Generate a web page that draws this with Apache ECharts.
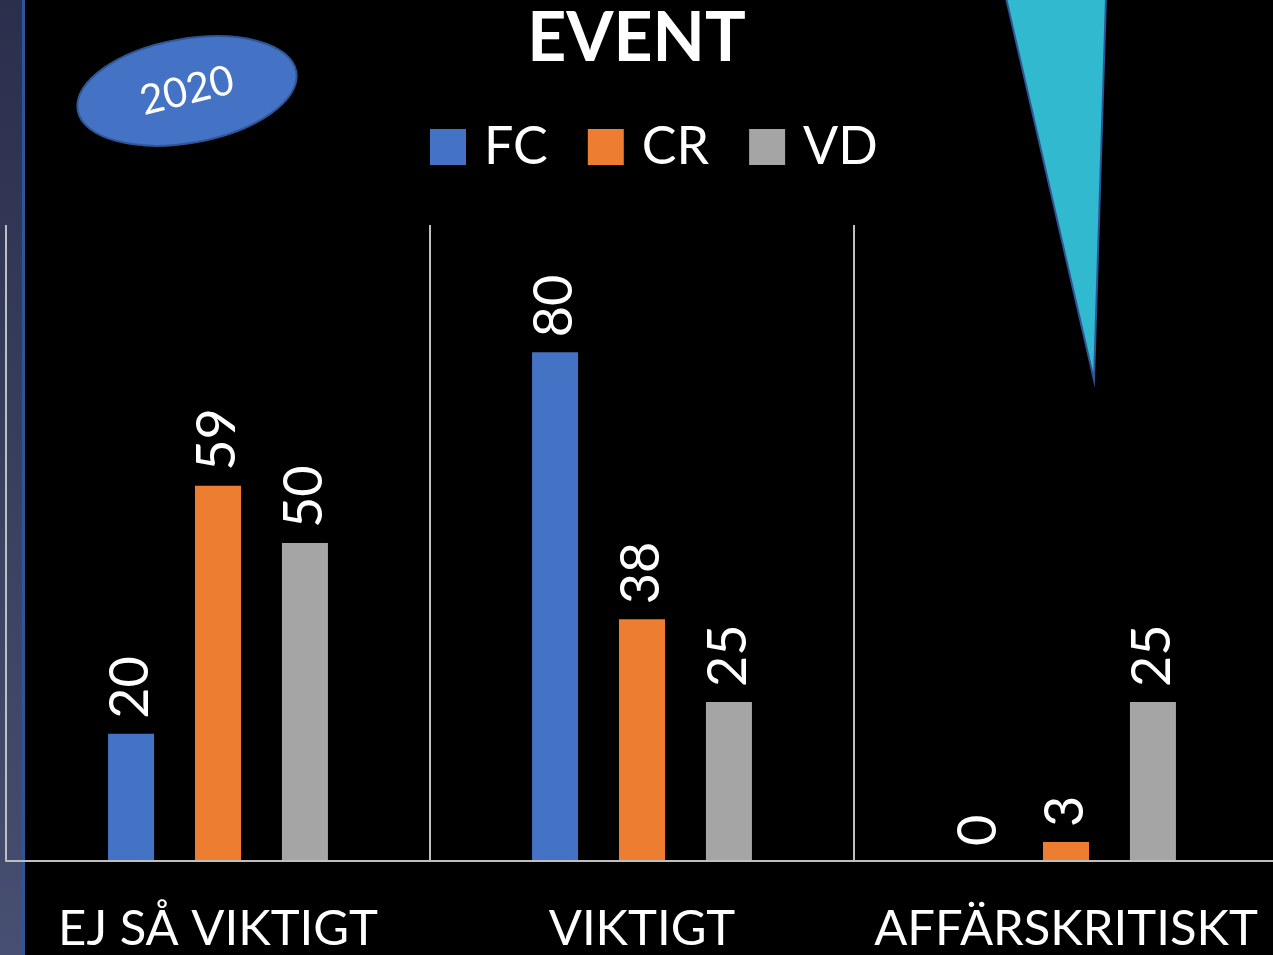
<!DOCTYPE html>
<html>
<head>
<meta charset="utf-8">
<script src="https://cdn.jsdelivr.net/npm/echarts@6/dist/echarts.min.js"></script>
<style>
  html, body { margin: 0; padding: 0; background: #000; }
  #chart { width: 1273px; height: 955px; }
</style>
</head>
<body>
<div id="chart"></div>
<script>
const categories = ['EJ SÅ VIKTIGT', 'VIKTIGT', 'AFFÄRSKRITISKT'];
const fcValues = [20, 80, 0];
const crValues = [59, 38, 3];
const vdValues = [50, 25, 25];
const seriesNames = ['FC', 'CR', 'VD'];
const seriesColors = ['#4472c4', '#ed7d31', '#a5a5a5'];

const chart = echarts.init(document.getElementById('chart'));
const font = 'Lato, "Open Sans", sans-serif';

const valueLabel = {
  show: true,
  position: 'top',
  rotate: 90,
  align: 'left',
  verticalAlign: 'middle',
  distance: 15,
  color: '#fff',
  fontSize: 54,
  fontFamily: font
};

function makeSeries(name, data, color) {
  return {
    name: name,
    type: 'bar',
    data: data,
    barWidth: 46,
    barGap: '89%',
    itemStyle: { color: color },
    label: valueLabel
  };
}

const option = {
  backgroundColor: '#000',
  animation: false,
  title: {
    text: 'EVENT',
    left: 'center',
    top: 0,
    textStyle: { color: '#fff', fontSize: 68, fontWeight: 'bold', fontFamily: font }
  },
  legend: {
    left: 425,
    top: 116,
    icon: 'rect',
    itemWidth: 36,
    itemHeight: 36,
    itemGap: 40,
    data: seriesNames,
    textStyle: { color: '#fff', fontSize: 52, fontFamily: font, padding: [0, 0, 0, 13] }
  },
  grid: {
    left: 6,
    width: 1272,
    top: 225,
    bottom: 94,
    outerBoundsMode: 'none',
    containLabel: false
  },
  xAxis: {
    type: 'category',
    data: categories,
    z: 5,
    axisLine: { show: true, lineStyle: { color: '#bfbfbf', width: 2 } },
    axisTick: { show: false },
    splitLine: { show: true, lineStyle: { color: '#bfbfbf', width: 2 } },
    axisLabel: { color: '#fff', fontSize: 49, fontFamily: font, margin: 44, interval: 0 }
  },
  yAxis: {
    type: 'value',
    min: 0,
    max: 100,
    show: false
  },
  graphic: {
    elements: [
      {
        type: 'rect',
        left: 0,
        top: 0,
        shape: { width: 22, height: 955 },
        style: {
          fill: new echarts.graphic.LinearGradient(0, 0, 0, 1, [
            { offset: 0, color: '#2a2f4c' },
            { offset: 1, color: '#474f72' }
          ])
        },
        z: -1
      },
      {
        type: 'rect',
        left: 22,
        top: 0,
        shape: { width: 3, height: 955 },
        style: { fill: '#2f5597' },
        z: -1
      },
      {
        type: 'polygon',
        shape: { points: [[1006, -2], [1106, -2], [1094, 380]] },
        style: { fill: '#31b9d0', stroke: '#2f5597', lineWidth: 2 },
        z: 10
      },
      {
        type: 'group',
        x: 187,
        y: 91,
        rotation: 10 * Math.PI / 180,
        z: 10,
        children: [
          {
            type: 'ellipse',
            shape: { cx: 0, cy: 0, rx: 111, ry: 52 },
            style: { fill: '#4472c4', stroke: '#2f5597', lineWidth: 2 }
          },
          {
            type: 'text',
            x: 0,
            y: 0,
            rotation: 4 * Math.PI / 180,
            style: {
              text: '2020',
              fill: '#fff',
              fontSize: 41,
              fontFamily: font,
              align: 'center',
              verticalAlign: 'middle'
            }
          }
        ]
      }
    ]
  },
  series: [
    makeSeries(seriesNames[0], fcValues, seriesColors[0]),
    makeSeries(seriesNames[1], crValues, seriesColors[1]),
    makeSeries(seriesNames[2], vdValues, seriesColors[2])
  ]
};

chart.setOption(option);
</script>
</body>
</html>
